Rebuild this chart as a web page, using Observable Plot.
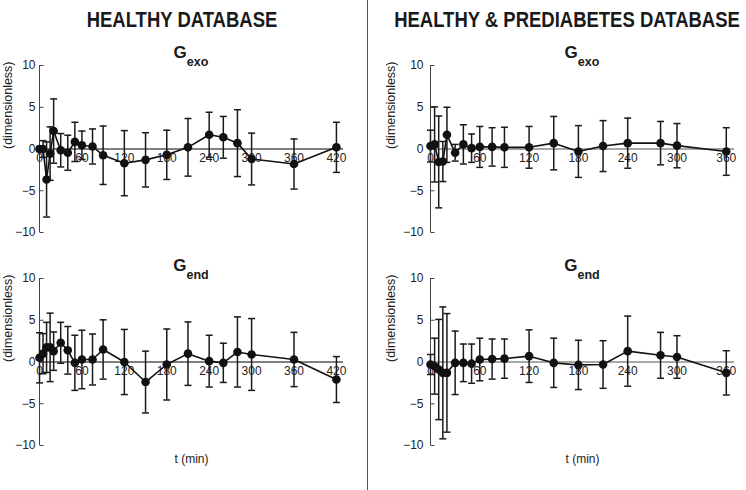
<!DOCTYPE html>
<html><head><meta charset="utf-8">
<script src="https://cdn.jsdelivr.net/npm/d3@7"></script>
<script src="https://cdn.jsdelivr.net/npm/@observablehq/plot@0.6"></script>
<style>
body{margin:0;background:#fff;}
#root{position:relative;width:746px;height:490px;overflow:hidden;background:#fff;font-family:"Liberation Sans",Arial,sans-serif;color:#1a1a1a;}
.panel{position:absolute;}
.hdr{position:absolute;font-weight:bold;font-size:22px;line-height:1;white-space:nowrap;transform:translateX(-50%) scaleX(0.84);}
.gt{position:absolute;font-weight:bold;line-height:1;white-space:nowrap;transform:translateX(-50%);}
.gt .G{font-size:17px;}
.gt .sub{font-size:12.5px;position:relative;top:8px;}
#divider{position:absolute;left:367px;top:0;width:1px;height:490px;background:#555;}
</style>
</head><body>
<div id="root"><div id="divider"></div></div>
<script>
// ---- data ----
const tHealthy = [0,5,10,15,20,30,40,50,60,75,90,120,150,180,210,240,260,280,300,360,420];
const gexoHealthy    = [0, 0, -3.65, -0.55, 2.15, -0.15, -0.45, 0.85, 0.45, 0.3, -0.75, -1.7, -1.3, -0.7, 0.2, 1.7, 1.4, 0.7, -1.2, -1.8, 0.2];
const gexoHealthyErr = [0.3, 1.0, 4.5, 3.2, 3.85, 2.0, 2.1, 2.35, 1.7, 2.1, 3.5, 3.9, 3.25, 2.95, 3.45, 2.7, 2.5, 4.0, 3.1, 3.0, 3.0];
const gendHealthy    = [0.5, 1.0, 1.75, 1.75, 1.3, 2.3, 1.4, -0.1, 0.3, 0.3, 1.5, 0.0, -2.4, -0.3, 1.0, 0.1, -0.1, 1.2, 0.9, 0.3, -2.1];
const gendHealthyErr = [3.0, 2.4, 3.0, 4.1, 2.3, 2.45, 2.85, 3.3, 3.5, 3.05, 3.55, 3.9, 3.7, 4.25, 3.8, 3.1, 2.35, 4.2, 4.3, 3.25, 2.75];

const tPre = [0,5,10,15,20,30,40,50,60,75,90,120,150,180,210,240,280,300,360];
const gexoPre    = [0.35, 0.55, -1.55, -1.5, 1.7, -0.45, 0.55, 0.1, 0.25, 0.25, 0.2, 0.2, 0.7, -0.3, 0.35, 0.7, 0.7, 0.4, -0.3];
const gexoPreErr = [1.9, 4.5, 5.5, 2.4, 3.3, 1.0, 2.35, 1.7, 2.45, 2.3, 2.4, 2.5, 3.2, 3.1, 3.05, 3.0, 2.6, 2.65, 2.85];
const gendPre    = [-0.3, -0.5, -0.9, -1.3, -1.3, -0.1, -0.1, -0.2, 0.3, 0.35, 0.4, 0.7, -0.1, -0.35, -0.3, 1.3, 0.8, 0.6, -1.3];
const gendPreErr = [1.2, 3.35, 6.0, 7.9, 7.1, 3.8, 2.25, 2.35, 2.55, 2.4, 2.35, 3.15, 2.95, 2.95, 2.85, 4.2, 2.75, 2.55, 2.65];

const yTicks = [-10, -5, 0, 5, 10];
const xTicksHealthy = [0, 60, 120, 180, 240, 300, 360, 420];
const xTicksPre = [0, 60, 120, 180, 240, 300, 360];
const headers = ["HEALTHY DATABASE", "HEALTHY & PREDIABETES DATABASE"];
const titleMain = "G";
const titleSubs = ["exo", "end"];
const yLabel = "(dimensionless)";
const xLabel = "t (min)";

// ---- helpers ----
const capSymbol = {draw(ctx, size) { const r = Math.sqrt(size / Math.PI); ctx.moveTo(-r, 0); ctx.lineTo(r, 0); }};
const tickSymbol = {draw(ctx, size) { const r = Math.sqrt(size / Math.PI); ctx.moveTo(0, 0); ctx.lineTo(r, 0); }};
const root = document.getElementById("root");

function panel(o) {
  const data = o.t.map((ti, i) => ({t: ti, v: o.v[i], e: o.e[i]}));
  const marks = [
    Plot.ruleY([0], {stroke: o.zeroColor, strokeWidth: o.zeroWidth}),
    Plot.ruleX([0], {y1: -10, y2: 10, stroke: "#444", strokeWidth: 1}),
    Plot.dot(yTicks, {x: 0, y: d => d, symbol: tickSymbol, r: 4, stroke: "#444", fill: "none", strokeWidth: 1}),
    Plot.axisY(yTicks, {tickSize: 0, tickPadding: o.pad, fontSize: 12, color: "#222", label: null}),
    Plot.text(o.xTicks, {x: d => d, y: 0, dy: 9, text: d => String(d), fontSize: 12, fill: "#222"}),
    Plot.text([yLabel], {frameAnchor: "left", rotate: -90, dx: o.labelDx, text: d => d, fontSize: 12.5, fill: "#222"}),
    Plot.ruleX(data, {x: "t", y1: d => d.v - d.e, y2: d => d.v + d.e, stroke: "#1a1a1a", strokeWidth: 1.5}),
    Plot.dot(data, {x: "t", y: d => d.v + d.e, symbol: capSymbol, r: 3.5, stroke: "#1a1a1a", strokeWidth: 1.5, fill: "none"}),
    Plot.dot(data, {x: "t", y: d => d.v - d.e, symbol: capSymbol, r: 3.5, stroke: "#1a1a1a", strokeWidth: 1.5, fill: "none"}),
    Plot.line(data, {x: "t", y: "v", stroke: "#111", strokeWidth: 1.6}),
    Plot.dot(data, {x: "t", y: "v", r: 4.3, fill: "#111", stroke: "none"})
  ];
  if (o.showX) marks.push(Plot.text([xLabel], {frameAnchor: "bottom", dy: 17, text: d => d, fontSize: 12, fill: "#222"}));
  const svg = Plot.plot({
    width: o.width, height: o.height,
    marginTop: o.mt, marginBottom: o.mb, marginLeft: o.ml, marginRight: o.mr,
    x: {domain: [0, o.xMax], axis: null},
    y: {domain: [-10, 10]},
    style: {fontFamily: '"Liberation Sans", Arial, sans-serif', fontSize: "12px", background: "transparent", overflow: "visible"},
    marks
  });
  const wrap = document.createElement("div");
  wrap.className = "panel";
  wrap.style.left = o.left + "px";
  wrap.style.top = o.top + "px";
  wrap.appendChild(svg);
  root.appendChild(wrap);
}

function addHeader(text, cx, top) {
  const d = document.createElement("div");
  d.className = "hdr"; d.textContent = text;
  d.style.left = cx + "px"; d.style.top = top + "px";
  root.appendChild(d);
}
function addTitle(sub, cx, top) {
  const d = document.createElement("div");
  d.className = "gt";
  const g = document.createElement("span"); g.className = "G"; g.textContent = titleMain;
  const s = document.createElement("span"); s.className = "sub"; s.textContent = sub;
  d.appendChild(g); d.appendChild(s);
  d.style.left = cx + "px"; d.style.top = top + "px";
  root.appendChild(d);
}

const L = {width: 365, ml: 39, mr: 22, xMax: 430, xTicks: xTicksHealthy, zeroColor: "#000", zeroWidth: 1, pad: 4, labelDx: -32, left: 0};
const R = {width: 376, ml: 60, mr: 12, xMax: 370, xTicks: xTicksPre, zeroColor: "#8a8a8a", zeroWidth: 1.5, pad: 7, labelDx: -40, left: 370};
const TOP = {top: 40, height: 210, mt: 25, mb: 18, showX: false};
const BOT = {top: 250, height: 220, mt: 28, mb: 25, showX: true};

panel({...L, ...TOP, t: tHealthy, v: gexoHealthy, e: gexoHealthyErr});
panel({...L, ...BOT, t: tHealthy, v: gendHealthy, e: gendHealthyErr});
panel({...R, ...TOP, t: tPre, v: gexoPre, e: gexoPreErr});
panel({...R, ...BOT, t: tPre, v: gendPre, e: gendPreErr});

addHeader(headers[0], 182, 9);
addHeader(headers[1], 567, 9);
addTitle(titleSubs[0], 191, 44);
addTitle(titleSubs[0], 582, 44);
addTitle(titleSubs[1], 191, 257);
addTitle(titleSubs[1], 582, 257);
</script>
</body></html>
